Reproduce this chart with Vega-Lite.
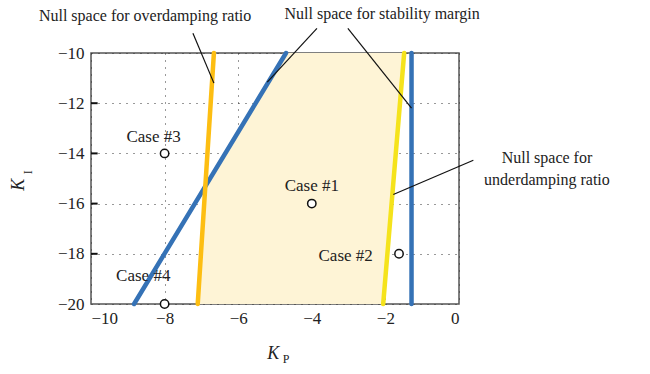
{
  "$schema": "https://vega.github.io/schema/vega-lite/v6.json",
  "width": 368,
  "height": 251,
  "autosize": "none",
  "padding": {"left": 91, "top": 53, "right": 191, "bottom": 70},
  "background": "white",
  "config": {
    "font": "Liberation Serif",
    "view": {"stroke": "#555555", "strokeWidth": 1.5},
    "axis": {
      "labelFont": "Liberation Serif",
      "labelFontSize": 17,
      "labelFontWeight": "normal",
      "labelColor": "#222222",
      "domain": false,
      "grid": true,
      "gridColor": "#333333",
      "gridDash": [1, 6],
      "gridWidth": 1,
      "ticks": false
    },
    "axisX": {"labelFont": "Liberation Serif"},
    "axisY": {"labelFont": "Liberation Serif"}
  },
  "datasets": {
    "shade": [
      {"y": -10, "xa": -4.70, "xb": -1.49},
      {"y": -15.31, "xa": -6.894, "xb": -1.793},
      {"y": -20, "xa": -7.10, "xb": -2.06}
    ],
    "lines": [
      {"s": "diag", "x": -4.70, "y": -10},
      {"s": "diag", "x": -8.83, "y": -20},
      {"s": "stab", "x": -1.29, "y": -10},
      {"s": "stab", "x": -1.29, "y": -20},
      {"s": "over", "x": -6.66, "y": -10},
      {"s": "over", "x": -7.10, "y": -20},
      {"s": "under", "x": -1.49, "y": -10},
      {"s": "under", "x": -2.06, "y": -20}
    ],
    "ticks": [
      {"x": -10, "x2": -9.82, "y": -12},
      {"x": -10, "x2": -9.82, "y": -14},
      {"x": -10, "x2": -9.82, "y": -16},
      {"x": -10, "x2": -9.82, "y": -18}
    ],
    "leaders": [
      {"x": -7.23, "y": -9.215, "x2": -6.66, "y2": -11.2},
      {"x": -3.86, "y": -9.02, "x2": -5.21, "y2": -11.16},
      {"x": -3.02, "y": -9.02, "x2": -1.29, "y2": -12.2},
      {"x": 0.39, "y": -14.27, "x2": -1.785, "y2": -15.64}
    ],
    "cases": [
      {"name": "Case #1", "x": -4, "y": -16, "lx": -4.0, "ly": -15.3},
      {"name": "Case #2", "x": -1.63, "y": -18, "lx": -3.08, "ly": -18.09},
      {"name": "Case #3", "x": -8, "y": -14, "lx": -8.3, "ly": -13.36},
      {"name": "Case #4", "x": -8, "y": -20, "lx": -8.58, "ly": -18.9}
    ],
    "notes": [
      {"t": "Null space for overdamping ratio", "x": -8.53, "y": -8.54},
      {"t": "Null space for stability margin", "x": -2.09, "y": -8.46},
      {"t": "Null space for", "x": 2.39, "y": -14.19},
      {"t": "underdamping ratio", "x": 2.39, "y": -15.07}
    ],
    "titleK": [
      {"t": "K", "x": -5.05, "y": -22.0, "angle": 0},
      {"t": "K", "x": -11.95, "y": -15.25, "angle": 270}
    ],
    "titleSub": [
      {"t": "P", "x": -4.7, "y": -22.18, "angle": 0},
      {"t": "I", "x": -11.72, "y": -14.75, "angle": 270}
    ]
  },
  "layer": [
    {
      "data": {"name": "shade"},
      "mark": {"type": "area", "orient": "horizontal", "color": "#FEF4D6", "opacity": 1},
      "encoding": {
        "y": {"field": "y", "type": "quantitative",
              "scale": {"domain": [-20, -10], "nice": false, "zero": false},
              "axis": {"values": [-20, -18, -16, -14, -12, -10], "title": null, "labelPadding": 7, "labelFont": "Liberation Serif"}},
        "x": {"field": "xa", "type": "quantitative",
              "scale": {"domain": [-10, 0], "nice": false, "zero": false},
              "axis": {"values": [-10, -8, -6, -4, -2, 0], "title": null, "labelPadding": 6, "labelFont": "Liberation Serif"}},
        "x2": {"field": "xb"}
      }
    },
    {
      "data": {"name": "ticks"},
      "mark": {"type": "rule", "color": "#111111", "strokeWidth": 2},
      "encoding": {
        "x": {"field": "x", "type": "quantitative"},
        "x2": {"field": "x2"},
        "y": {"field": "y", "type": "quantitative"}
      }
    },
    {
      "data": {"name": "lines"},
      "mark": {"type": "line", "strokeWidth": 4.5, "strokeCap": "round", "clip": false},
      "encoding": {
        "x": {"field": "x", "type": "quantitative"},
        "y": {"field": "y", "type": "quantitative"},
        "color": {"field": "s", "type": "nominal",
                  "scale": {"domain": ["diag", "stab", "over", "under"], "range": ["#3572B6", "#3572B6", "#FDBE12", "#F5E31C"]},
                  "legend": null},
        "order": {"field": "y", "type": "quantitative"}
      }
    },
    {
      "data": {"name": "leaders"},
      "mark": {"type": "rule", "color": "#111111", "strokeWidth": 1.2, "clip": false},
      "encoding": {
        "x": {"field": "x", "type": "quantitative"},
        "y": {"field": "y", "type": "quantitative"},
        "x2": {"field": "x2"},
        "y2": {"field": "y2"}
      }
    },
    {
      "data": {"name": "cases"},
      "mark": {"type": "point", "shape": "circle", "filled": false, "fill": "white", "fillOpacity": 1, "stroke": "#111111", "strokeWidth": 1.5, "size": 70, "clip": false},
      "encoding": {
        "x": {"field": "x", "type": "quantitative"},
        "y": {"field": "y", "type": "quantitative"}
      }
    },
    {
      "data": {"name": "cases"},
      "mark": {"type": "text", "fontSize": 17, "color": "#222222", "align": "center", "baseline": "middle", "font": "Liberation Serif"},
      "encoding": {
        "x": {"field": "lx", "type": "quantitative"},
        "y": {"field": "ly", "type": "quantitative"},
        "text": {"field": "name"}
      }
    },
    {
      "data": {"name": "notes"},
      "mark": {"type": "text", "fontSize": 16, "color": "#222222", "align": "center", "baseline": "middle", "clip": false, "font": "Liberation Serif"},
      "encoding": {
        "x": {"field": "x", "type": "quantitative"},
        "y": {"field": "y", "type": "quantitative"},
        "text": {"field": "t"}
      }
    },
    {
      "data": {"name": "titleK"},
      "mark": {"type": "text", "fontSize": 18, "fontStyle": "italic", "color": "#222222", "align": "center", "baseline": "middle", "clip": false, "font": "Liberation Serif"},
      "encoding": {
        "x": {"field": "x", "type": "quantitative"},
        "y": {"field": "y", "type": "quantitative"},
        "text": {"field": "t"},
        "angle": {"field": "angle", "type": "quantitative", "scale": null}
      }
    },
    {
      "data": {"name": "titleSub"},
      "mark": {"type": "text", "fontSize": 12, "color": "#222222", "align": "center", "baseline": "middle", "clip": false, "font": "Liberation Serif"},
      "encoding": {
        "x": {"field": "x", "type": "quantitative"},
        "y": {"field": "y", "type": "quantitative"},
        "text": {"field": "t"},
        "angle": {"field": "angle", "type": "quantitative", "scale": null}
      }
    }
  ]
}
